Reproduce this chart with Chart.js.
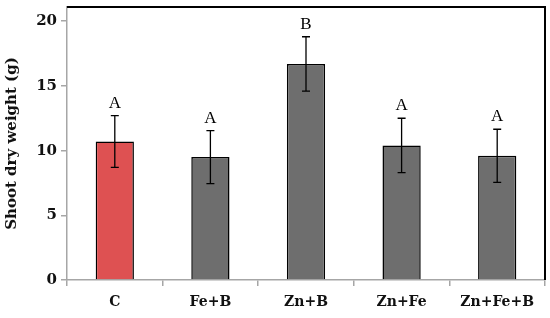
<!DOCTYPE html>
<html>
<head>
<meta charset="utf-8">
<script src="https://cdn.jsdelivr.net/npm/chart.js@4"></script>
<style>
  html, body { margin: 0; padding: 0; background: #fff; }
  #wrap { width: 550px; height: 318px; }
</style>
</head>
<body>
<div id="wrap"><canvas id="c" width="550" height="318"></canvas></div>
<script>
// ---------- Data ----------
const categories = ["C", "Fe+B", "Zn+B", "Zn+Fe", "Zn+Fe+B"];
const shootWeight = [10.7, 9.5, 16.7, 10.4, 9.6];
const errorSD = [2.0, 2.05, 2.1, 2.1, 2.05];
const groupLetters = ["A", "A", "B", "A", "A"];
const yTicks = [0, 5, 10, 15, 20];

const barColors = categories.map((c, i) => i === 0 ? "#DE5152" : "#6E6E6E");
const serif = "'DejaVu Serif', 'Liberation Serif', serif";

// ---------- Error bars, letters, frame ----------
const extras = {
  id: "extras",
  afterDraw(chart) {
    const ctx = chart.ctx;
    const x = chart.scales.x, y = chart.scales.y;
    const area = chart.chartArea;
    ctx.save();

    // black frame on top and right
    ctx.strokeStyle = "#000";
    ctx.lineWidth = 2;
    ctx.beginPath();
    ctx.moveTo(area.left, area.top);
    ctx.lineTo(area.right, area.top);
    ctx.lineTo(area.right, area.bottom);
    ctx.stroke();

    ctx.lineWidth = 1.3;
    ctx.font = "17px 'Liberation Serif', serif";
    ctx.fillStyle = "#000";
    ctx.textAlign = "center";
    ctx.textBaseline = "alphabetic";
    shootWeight.forEach((v, i) => {
      const cx = x.getPixelForValue(i);
      const yt = y.getPixelForValue(v + errorSD[i]);
      const yb = y.getPixelForValue(v - errorSD[i]);
      ctx.beginPath();
      ctx.moveTo(cx, yt); ctx.lineTo(cx, yb);
      ctx.moveTo(cx - 4, yt); ctx.lineTo(cx + 4, yt);
      ctx.moveTo(cx - 4, yb); ctx.lineTo(cx + 4, yb);
      ctx.stroke();
      ctx.fillText(groupLetters[i], cx, yt - 8);
    });
    ctx.restore();
  }
};

// ---------- Chart ----------
new Chart(document.getElementById("c"), {
  type: "bar",
  data: {
    labels: categories,
    datasets: [{
      data: shootWeight,
      backgroundColor: barColors,
      borderColor: "#000",
      borderWidth: 1.5,
      categoryPercentage: 1,
      barPercentage: 0.4
    }]
  },
  options: {
    responsive: false,
    animation: false,
    layout: { padding: { top: 7, right: 5, left: 3, bottom: 0 } },
    plugins: { legend: { display: false }, tooltip: { enabled: false } },
    scales: {
      x: {
        afterFit: s => { s.height = 38; s.paddingLeft = 0; s.paddingRight = 0; },
        border: { color: "#A6A6A6", width: 1.5 },
        grid: { offset: true, drawOnChartArea: false, tickLength: 6, color: "#A6A6A6", lineWidth: 1.5 },
        ticks: { color: "#111", padding: 8, font: { family: serif, size: 14, weight: "bold" } }
      },
      y: {
        min: 0,
        max: 21.1,
        afterFit: s => { s.width = 64; s.paddingTop = 0; s.paddingBottom = 0; },
        afterBuildTicks: s => { s.ticks = yTicks.map(v => ({ value: v })); },
        border: { color: "#A6A6A6", width: 1.5 },
        grid: { drawOnChartArea: false, tickLength: 6, color: "#A6A6A6", lineWidth: 1.5 },
        ticks: { color: "#111", padding: 4, font: { family: serif, size: 15, weight: "bold" } },
        title: {
          display: true,
          text: "Shoot dry weight (g)",
          color: "#111",
          padding: { top: 0, bottom: 2 },
          font: { family: serif, size: 15, weight: "bold" }
        }
      }
    }
  },
  plugins: [extras]
});
</script>
</body>
</html>
